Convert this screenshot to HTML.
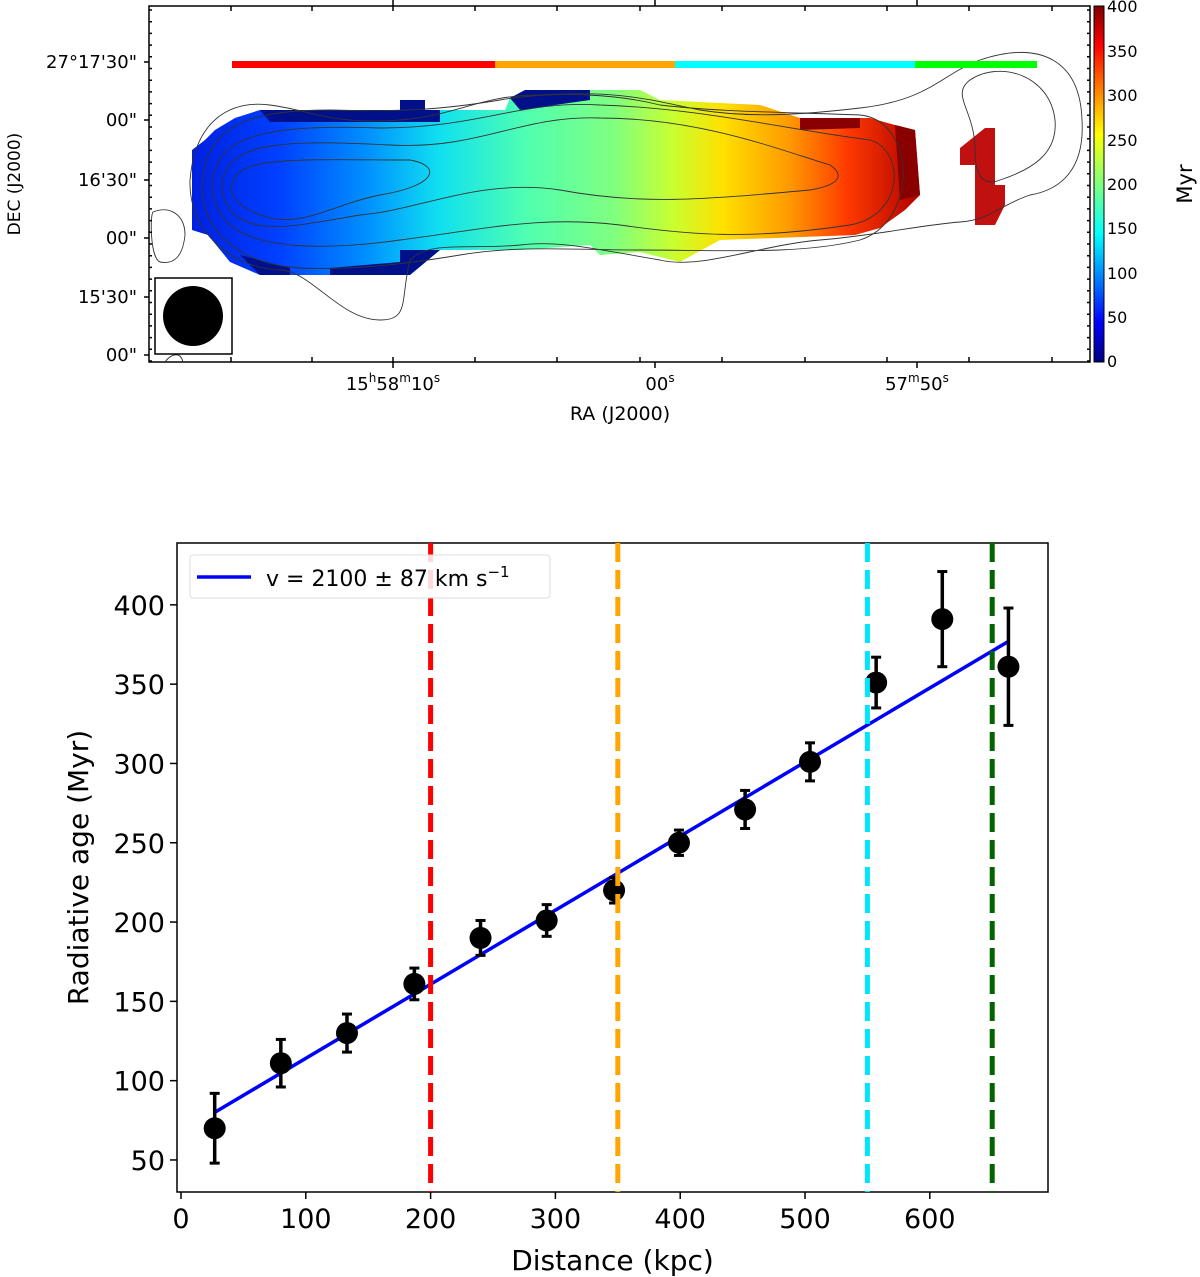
<!DOCTYPE html>
<html><head><meta charset="utf-8"><style>
body{margin:0;background:#fff;width:1200px;height:1277px;overflow:hidden;font-family:"DejaVu Sans","Liberation Sans",sans-serif}
svg{position:absolute;left:0;top:0}
</style></head><body>
<svg width="1200" height="1277" viewBox="0 0 1200 1277">
<defs>
<linearGradient id="jetx" x1="192" y1="0" x2="920" y2="0" gradientUnits="userSpaceOnUse">
<stop offset="0" stop-color="#0020e0"/><stop offset="0.12" stop-color="#0040ff"/><stop offset="0.24" stop-color="#0090ff"/>
<stop offset="0.34" stop-color="#10e0f0"/><stop offset="0.46" stop-color="#50ffb0"/><stop offset="0.58" stop-color="#80ff80"/>
<stop offset="0.66" stop-color="#c8ff30"/><stop offset="0.73" stop-color="#ffe000"/><stop offset="0.82" stop-color="#ff9a00"/>
<stop offset="0.9" stop-color="#ff3a00"/><stop offset="1" stop-color="#b00000"/></linearGradient>
<linearGradient id="jety" x1="0" y1="362" x2="0" y2="6" gradientUnits="userSpaceOnUse">
<stop offset="0" stop-color="#00007f"/><stop offset="0.11" stop-color="#0000ff"/><stop offset="0.36" stop-color="#00ffff"/>
<stop offset="0.5" stop-color="#7fff7f"/><stop offset="0.64" stop-color="#ffff00"/><stop offset="0.89" stop-color="#ff0000"/><stop offset="1" stop-color="#7f0000"/></linearGradient>
</defs>
<g>
<rect x="149" y="6" width="941" height="356" fill="#fff" stroke="#000" stroke-width="1.5"/>
<path fill="url(#jetx)" d="M215,130 L235,118 L260,110 L400,110 L400,100 L425,100 L425,110 L505,110 L510,98 L525,90 L640,90 L660,100 L760,105 L800,118 L870,118 L895,125 L915,130 L920,195 L905,210 L880,228 L855,235 L720,240 L680,262 L640,252 L600,255 L590,245 L520,250 L440,250 L410,275 L260,275 L230,262 L208,235 L192,230 L192,150 L205,140 Z"/>
<path fill="#00108a" d="M260,110 L400,110 L400,100 L425,100 L425,110 L440,110 L440,122 L270,122 Z M510,98 L525,90 L590,90 L590,100 L520,110 Z M400,250 L440,250 L410,275 L330,275 L330,268 L400,262 Z M240,255 L290,268 L290,275 L260,275 Z"/>
<path fill="#c01010" d="M960,148 L985,128 L995,128 L995,185 L1005,185 L1005,205 L995,225 L975,225 L975,165 L960,165 Z"/>
<path fill="#8a0000" d="M800,118 L860,118 L860,128 L800,130 Z M895,125 L915,130 L920,195 L900,200 Z"/>
<g fill="none" stroke="#333" stroke-width="0.9">
<path d="M232,185 C235,155 300,160 410,160 C440,165 440,185 380,195 C330,205 300,230 260,215 C235,205 230,195 232,185 Z"/>
<path d="M222,185 C225,140 290,140 390,145 C480,150 520,115 600,118 C700,118 780,150 830,165 C845,175 840,185 810,190 C700,200 640,205 560,190 C480,178 420,210 360,215 C300,225 260,235 235,215 C225,205 222,195 222,185 Z"/>
<path d="M212,185 C215,130 280,125 380,128 C480,128 520,100 600,105 C700,108 790,130 870,140 C905,150 905,215 850,225 C750,240 690,235 620,225 C540,215 480,230 400,240 C330,250 260,250 230,225 C215,210 212,195 212,185 Z"/>
<path d="M202,185 C205,125 250,110 330,110 C400,112 440,110 500,100 C560,90 620,95 660,105 C720,112 780,112 860,115 C915,120 920,220 860,240 C800,255 720,250 640,250 C570,250 520,245 460,255 C400,265 350,270 300,268 C240,265 200,230 202,185 Z"/>
<path d="M190,180 C195,120 230,100 270,105 C310,110 330,125 400,120 C460,115 480,95 540,95 C620,90 650,100 700,110 C750,118 800,115 860,108 C930,100 940,75 980,60 C1040,40 1080,60 1082,120 C1085,170 1060,190 1030,195 C1000,205 990,220 960,222 C920,225 880,235 820,240 C760,245 700,270 660,260 C600,250 560,240 520,245 C470,250 430,240 410,260 C400,300 410,320 380,320 C340,320 310,270 280,270 C230,268 188,230 190,180 Z"/>
<path d="M970,80 C1000,60 1050,75 1055,120 C1058,155 1030,170 1000,180 C980,188 975,170 975,150 C975,110 950,95 970,80 Z"/>
<path d="M153,212 C170,205 185,215 185,235 C183,255 175,265 160,262 C150,258 150,215 153,212 Z"/>
<path d="M165,362 C170,355 180,350 183,362"/>
</g>
<g>
<rect x="232" y="61" width="263" height="7" fill="#ff0000"/>
<rect x="495" y="61" width="180" height="7" fill="#ffa500"/>
<rect x="675" y="61" width="240" height="7" fill="#00ffff"/>
<rect x="915" y="61" width="122" height="7" fill="#00ff00"/>
</g>
<rect x="155" y="278" width="77" height="76" fill="#fff" stroke="#000" stroke-width="1.5"/>
<circle cx="193" cy="316" r="30" fill="#000"/>
<g id="mapticks" stroke="#000" stroke-width="1.5"></g>
<g font-size="18" fill="#000" text-anchor="end">
<text x="137" y="68">27°17'30"</text><text x="137" y="126">00"</text><text x="137" y="186">16'30"</text><text x="137" y="244">00"</text><text x="137" y="303">15'30"</text><text x="137" y="361">00"</text>
</g>
<g font-size="18" fill="#000" text-anchor="middle">
<text x="393" y="390">15<tspan font-size="12" dy="-8">h</tspan><tspan dy="8">58</tspan><tspan font-size="12" dy="-8">m</tspan><tspan dy="8">10</tspan><tspan font-size="12" dy="-8">s</tspan></text>
<text x="660" y="390">00<tspan font-size="12" dy="-8">s</tspan></text>
<text x="917" y="390">57<tspan font-size="12" dy="-8">m</tspan><tspan dy="8">50</tspan><tspan font-size="12" dy="-8">s</tspan></text>
</g>
<text x="620" y="420" font-size="19" text-anchor="middle">RA (J2000)</text>
<text transform="translate(20,184) rotate(-90)" font-size="17" text-anchor="middle">DEC (J2000)</text>
<rect x="1094" y="6" width="10" height="356" fill="url(#jety)" stroke="#000" stroke-width="1"/>
<g font-size="16" fill="#000">
<text x="1107" y="12">400</text><text x="1107" y="57">350</text><text x="1107" y="101">300</text><text x="1107" y="146">250</text><text x="1107" y="190">200</text><text x="1107" y="234">150</text><text x="1107" y="279">100</text><text x="1107" y="323">50</text><text x="1107" y="367">0</text>
</g>
<text transform="translate(1192,184) rotate(-90)" font-size="21" text-anchor="middle">Myr</text>
</g>

<g id="chart"></g>
</svg>
<script>
(function(){
const g=document.getElementById('mapticks');
let s='';
[231,312,393,475,557,640,722,805,887,969,1052].forEach(x=>{s+=`M${x},6v5M${x},362v-5`;});
[393,655,917].forEach(x=>{s+=`M${x},6v-6M${x},362v6`;});
for(let y=10;y<362;y+=11.7){s+=`M149,${y}h3M1090,${y}h-3`;}
[62,120,180,238,297,355].forEach(y=>{s+=`M149,${y}h-5`;});
const p=document.createElementNS('http://www.w3.org/2000/svg','path');
p.setAttribute('d',s);p.setAttribute('fill','none');


g.appendChild(p);
})();

const distances=[27,80,133,187,240,293,347,399,452,504,557,610,663];
const ages=[70,111,130,161,190,201,220,250,271,301,351,391,361];
const errors=[22,15,12,10,11,10,8,8,12,12,16,30,37];
const fitX=[27,663];
const fitY=[80,377];
const regionLines=[200,350,550,650];
const regionColors=['#ff0000','#ffa500','#00e5ff','#006400'];
const xTicks=[0,100,200,300,400,500,600];
const yTicks=[50,100,150,200,250,300,350,400];

(function(){
const NS='http://www.w3.org/2000/svg';
const g=document.getElementById('chart');
const L=177,R=1048,T=543,B=1192;
const xmin=-3.2,xmax=694.7,ymin=29.8,ymax=439;
const X=v=>L+(v-xmin)/(xmax-xmin)*(R-L);
const Y=v=>B-(v-ymin)/(ymax-ymin)*(B-T);
function el(t,a,name,txt){const e=document.createElementNS(NS,t);for(const k in a)e.setAttribute(k,a[k]);


if(txt!==undefined)e.textContent=txt;g.appendChild(e);return e;}
el('rect',{x:L,y:T,width:R-L,height:B-T,fill:'#fff',stroke:'#000','stroke-width':1.5},'plot-area');
xTicks.forEach(v=>{el('line',{x1:X(v),x2:X(v),y1:B,y2:B+7,stroke:'#000','stroke-width':1.5},'x-tick');
el('text',{x:X(v),y:B+36,'font-size':27,'text-anchor':'middle'},'x-tick-label',String(v));});
yTicks.forEach(v=>{el('line',{x1:L,x2:L-7,y1:Y(v),y2:Y(v),stroke:'#000','stroke-width':1.5},'y-tick');
el('text',{x:L-12,y:Y(v)+10,'font-size':27,'text-anchor':'end'},'y-tick-label',String(v));});
el('text',{x:(L+R)/2,y:1270,'font-size':28,'text-anchor':'middle'},'x-axis-title','Distance (kpc)');
el('text',{transform:`translate(88,${(T+B)/2}) rotate(-90)`,'font-size':28,'text-anchor':'middle'},'y-axis-title','Radiative age (Myr)');
el('line',{x1:X(fitX[0]),y1:Y(fitY[0]),x2:X(fitX[1]),y2:Y(fitY[1]),stroke:'#0000ff','stroke-width':3.5},'fit-line');
distances.forEach((d,i)=>{
el('line',{x1:X(d),x2:X(d),y1:Y(ages[i]-errors[i]),y2:Y(ages[i]+errors[i]),stroke:'#000','stroke-width':3.5},'error-bar');
el('line',{x1:X(d)-5,x2:X(d)+5,y1:Y(ages[i]-errors[i]),y2:Y(ages[i]-errors[i]),stroke:'#000','stroke-width':3},'error-cap');
el('line',{x1:X(d)-5,x2:X(d)+5,y1:Y(ages[i]+errors[i]),y2:Y(ages[i]+errors[i]),stroke:'#000','stroke-width':3},'error-cap');
el('circle',{cx:X(d),cy:Y(ages[i]),r:11,fill:'#000'},'data-point');
});
regionLines.forEach((v,i)=>{el('line',{x1:X(v),x2:X(v),y1:T,y2:B,stroke:regionColors[i],'stroke-width':5,'stroke-dasharray':'19 8'},'region-boundary');});
el('rect',{x:190,y:555,width:360,height:43,rx:3,fill:'#fff','fill-opacity':0.85,stroke:'#ddd'},'legend-box');
el('line',{x1:197,x2:251,y1:577,y2:577,stroke:'#0000ff','stroke-width':3.5},'legend-swatch');
const t=el('text',{x:266,y:586,'font-size':22},'legend-label','v = 2100 ± 87 km s');
const ts=document.createElementNS(NS,'tspan');ts.setAttribute('dy','-9');ts.setAttribute('font-size','15');ts.textContent='−1';t.appendChild(ts);
})();
</script>
</body></html>
